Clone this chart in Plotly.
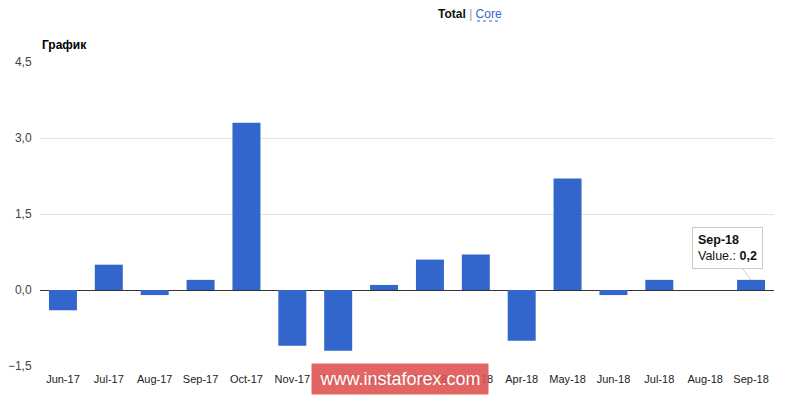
import plotly.graph_objects as go

categories = ["Jun-17", "Jul-17", "Aug-17", "Sep-17", "Oct-17", "Nov-17", "Dec-17", "Jan-18",
              "Feb-18", "Mar-18", "Apr-18", "May-18", "Jun-18", "Jul-18", "Aug-18", "Sep-18"]
values = [-0.4, 0.5, -0.1, 0.2, 3.3, -1.1, -1.2, 0.1, 0.6, 0.7, -1.0, 2.2, -0.1, 0.2, 0.0, 0.2]
y_ticks = [-1.5, 0.0, 1.5, 3.0, 4.5]

FONT = "Liberation Sans, Arial, sans-serif"

fig = go.Figure()
fig.add_trace(go.Bar(x=categories, y=values, marker=dict(color="#3366cc", line=dict(width=0)),
                     name="Value."))

# reference-pixel plot box
W0, W1, T, B = 40, 774, 62, 366
def px(xp):
    return (xp - W0) / (W1 - W0)
def py(yp):
    return (B - yp) / (B - T)

OFF = 8  # page body margin
fig.update_layout(
    width=800 - OFF, height=395 - OFF,
    margin=dict(l=W0 - OFF, r=800 - W1, t=T - OFF, b=395 - B),
    paper_bgcolor="white", plot_bgcolor="white",
    separators=",.",
    showlegend=False,
    bargap=0.39,
    font=dict(family=FONT, size=11, color="#444"),
    xaxis=dict(showgrid=False, showline=False, ticks="outside", ticklen=3, tickcolor="white",
               tickfont=dict(size=11, color="#222"), fixedrange=True, automargin=False),
    yaxis=dict(range=[-1.5, 4.5], tickvals=y_ticks, tickformat=".1f", showgrid=True,
               gridcolor="#e3e3e3", gridwidth=1, zeroline=True, zerolinecolor="#333",
               zerolinewidth=1, tickfont=dict(size=12, color="#444"), ticks="outside",
               ticklen=5, tickcolor="white", fixedrange=True, automargin=False),
    annotations=[
        dict(xref="paper", yref="paper", x=px(40), y=py(45), xanchor="left", yanchor="middle",
             text="<b>График</b>", showarrow=False, font=dict(size=12, color="#000", family=FONT)),
        dict(xref="paper", yref="paper", x=px(470), y=py(14), xanchor="center", yanchor="middle",
             text="<b>Total</b> <span style='color:#999'>|</span> <span style='color:#3366cc'>Core</span>",
             showarrow=False, font=dict(size=12, color="#111", family=FONT)),
        dict(x="Sep-18", y=0.2, xref="x", yref="y", ax=-24, ay=-32,
             text="<b>Sep-18</b><br>Value.: <b>0,2</b>", align="left",
             showarrow=True, arrowhead=0, arrowwidth=1, arrowcolor="#cccccc",
             bgcolor="white", bordercolor="#cccccc", borderwidth=1, borderpad=5,
             font=dict(size=12.5, color="#111", family=FONT)),
        dict(xref="paper", yref="paper", x=px(400), y=py(379), xanchor="center", yanchor="middle",
             text="www.instaforex.com", showarrow=False,
             bgcolor="rgba(222,80,80,0.88)", borderpad=5, width=166,
             font=dict(size=18, color="white", family=FONT)),
    ],
    shapes=[
        dict(type="line", xref="paper", yref="paper", x0=px(477), x1=px(501), y0=py(21), y1=py(21),
             line=dict(color="#3366cc", width=1, dash="dot")),
    ],
)

fig.write_html("out.html")
